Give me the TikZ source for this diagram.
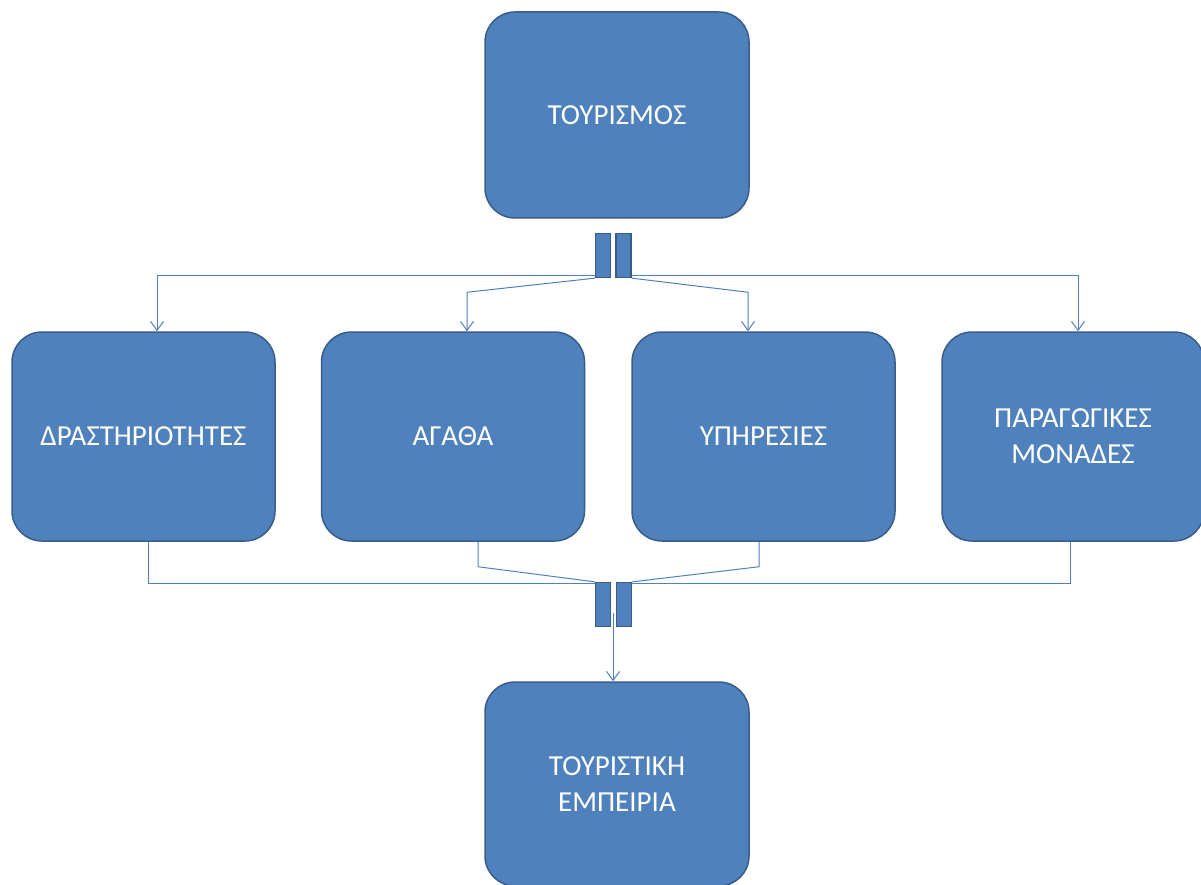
\documentclass[tikz,border=0pt]{standalone}
\usepackage{fontspec}
\setmainfont{Carlito}
\usetikzlibrary{arrows.meta}
\definecolor{boxfill}{HTML}{4F81BD}
\definecolor{boxline}{HTML}{385D8A}
\definecolor{connline}{HTML}{5080BE}
\tikzset{
  bigbox/.style={rectangle, rounded corners=30pt, fill=boxfill, draw=boxline, line width=1.5pt,
    minimum width=263pt, minimum height=209pt, inner sep=0pt, text=white,
    font=\fontsize{29}{36}\selectfont, align=center},
  barbox/.style={rectangle, fill=boxfill, draw=boxline, line width=1.3pt,
    minimum width=15pt, minimum height=44pt, inner sep=0pt},
  conn/.style={draw=connline, line width=1pt},
  arr/.style={conn, -{Straight Barb[length=9pt,width=13pt,line width=1pt]}}
}
\begin{document}
\begin{tikzpicture}[x=1pt,y=-1pt]
\useasboundingbox (0,0) rectangle (1201,885);
\clip (0,0) rectangle (1201,885);
% boxes
\node[bigbox, minimum width=264pt, minimum height=206pt] (top) at (617,115) {\raisebox{-3pt}{ΤΟΥΡΙΣΜΟΣ}};
\node[bigbox] (a1) at (143.5,436.5) {ΔΡΑΣΤΗΡΙΟΤΗΤΕΣ};
\node[bigbox] (a2) at (453,436.5) {ΑΓΑΘΑ};
\node[bigbox] (a3) at (763.5,436.5) {ΥΠΗΡΕΣΙΕΣ};
\node[bigbox, minimum width=262pt] (a4) at (1073,436.5) {ΠΑΡΑΓΩΓΙΚΕΣ\\ΜΟΝΑΔΕΣ};
\node[bigbox, minimum width=264pt, minimum height=204pt] (bot) at (617,784) {ΤΟΥΡΙΣΤΙΚΗ\\ΕΜΠΕΙΡΙΑ};
% bars
\node[barbox] (b1l) at (603,255.5) {};
\node[barbox] (b1r) at (623.5,255.5) {};
\node[barbox] (b2l) at (603,604.5) {};
\node[barbox] (b2r) at (624,604.5) {};
% top connectors
\draw[arr] ([yshift=3pt]b1l.south west) -| ([xshift=13.5pt]a1.north);
\draw[arr] (b1l.south west) -- ([xshift=14pt,yshift=39pt]a2.north) -- ([xshift=14pt]a2.north);
\draw[arr] (b1r.south east) -- ([xshift=-15.5pt,yshift=39pt]a3.north) -- ([xshift=-15.5pt]a3.north);
\draw[arr] ([yshift=3pt]b1r.south east) -| ([xshift=5pt]a4.north);
% bottom connectors
\draw[conn] ([xshift=4.5pt]a1.south) |- ([yshift=-2pt]b2l.north west);
\draw[conn] ([xshift=25pt]a2.south) -- ([xshift=25pt,yshift=-25pt]a2.south) -- (b2l.north west);
\draw[conn] ([xshift=-4.5pt]a3.south) -- ([xshift=-4.5pt,yshift=-25pt]a3.south) -- (b2r.north east);
\draw[conn] ([xshift=-3pt]a4.south) |- ([yshift=-2pt]b2r.north east);
\coordinate (s) at (613,613);
\draw[arr] (s) -- (s |- bot.north);
\end{tikzpicture}
\end{document}
